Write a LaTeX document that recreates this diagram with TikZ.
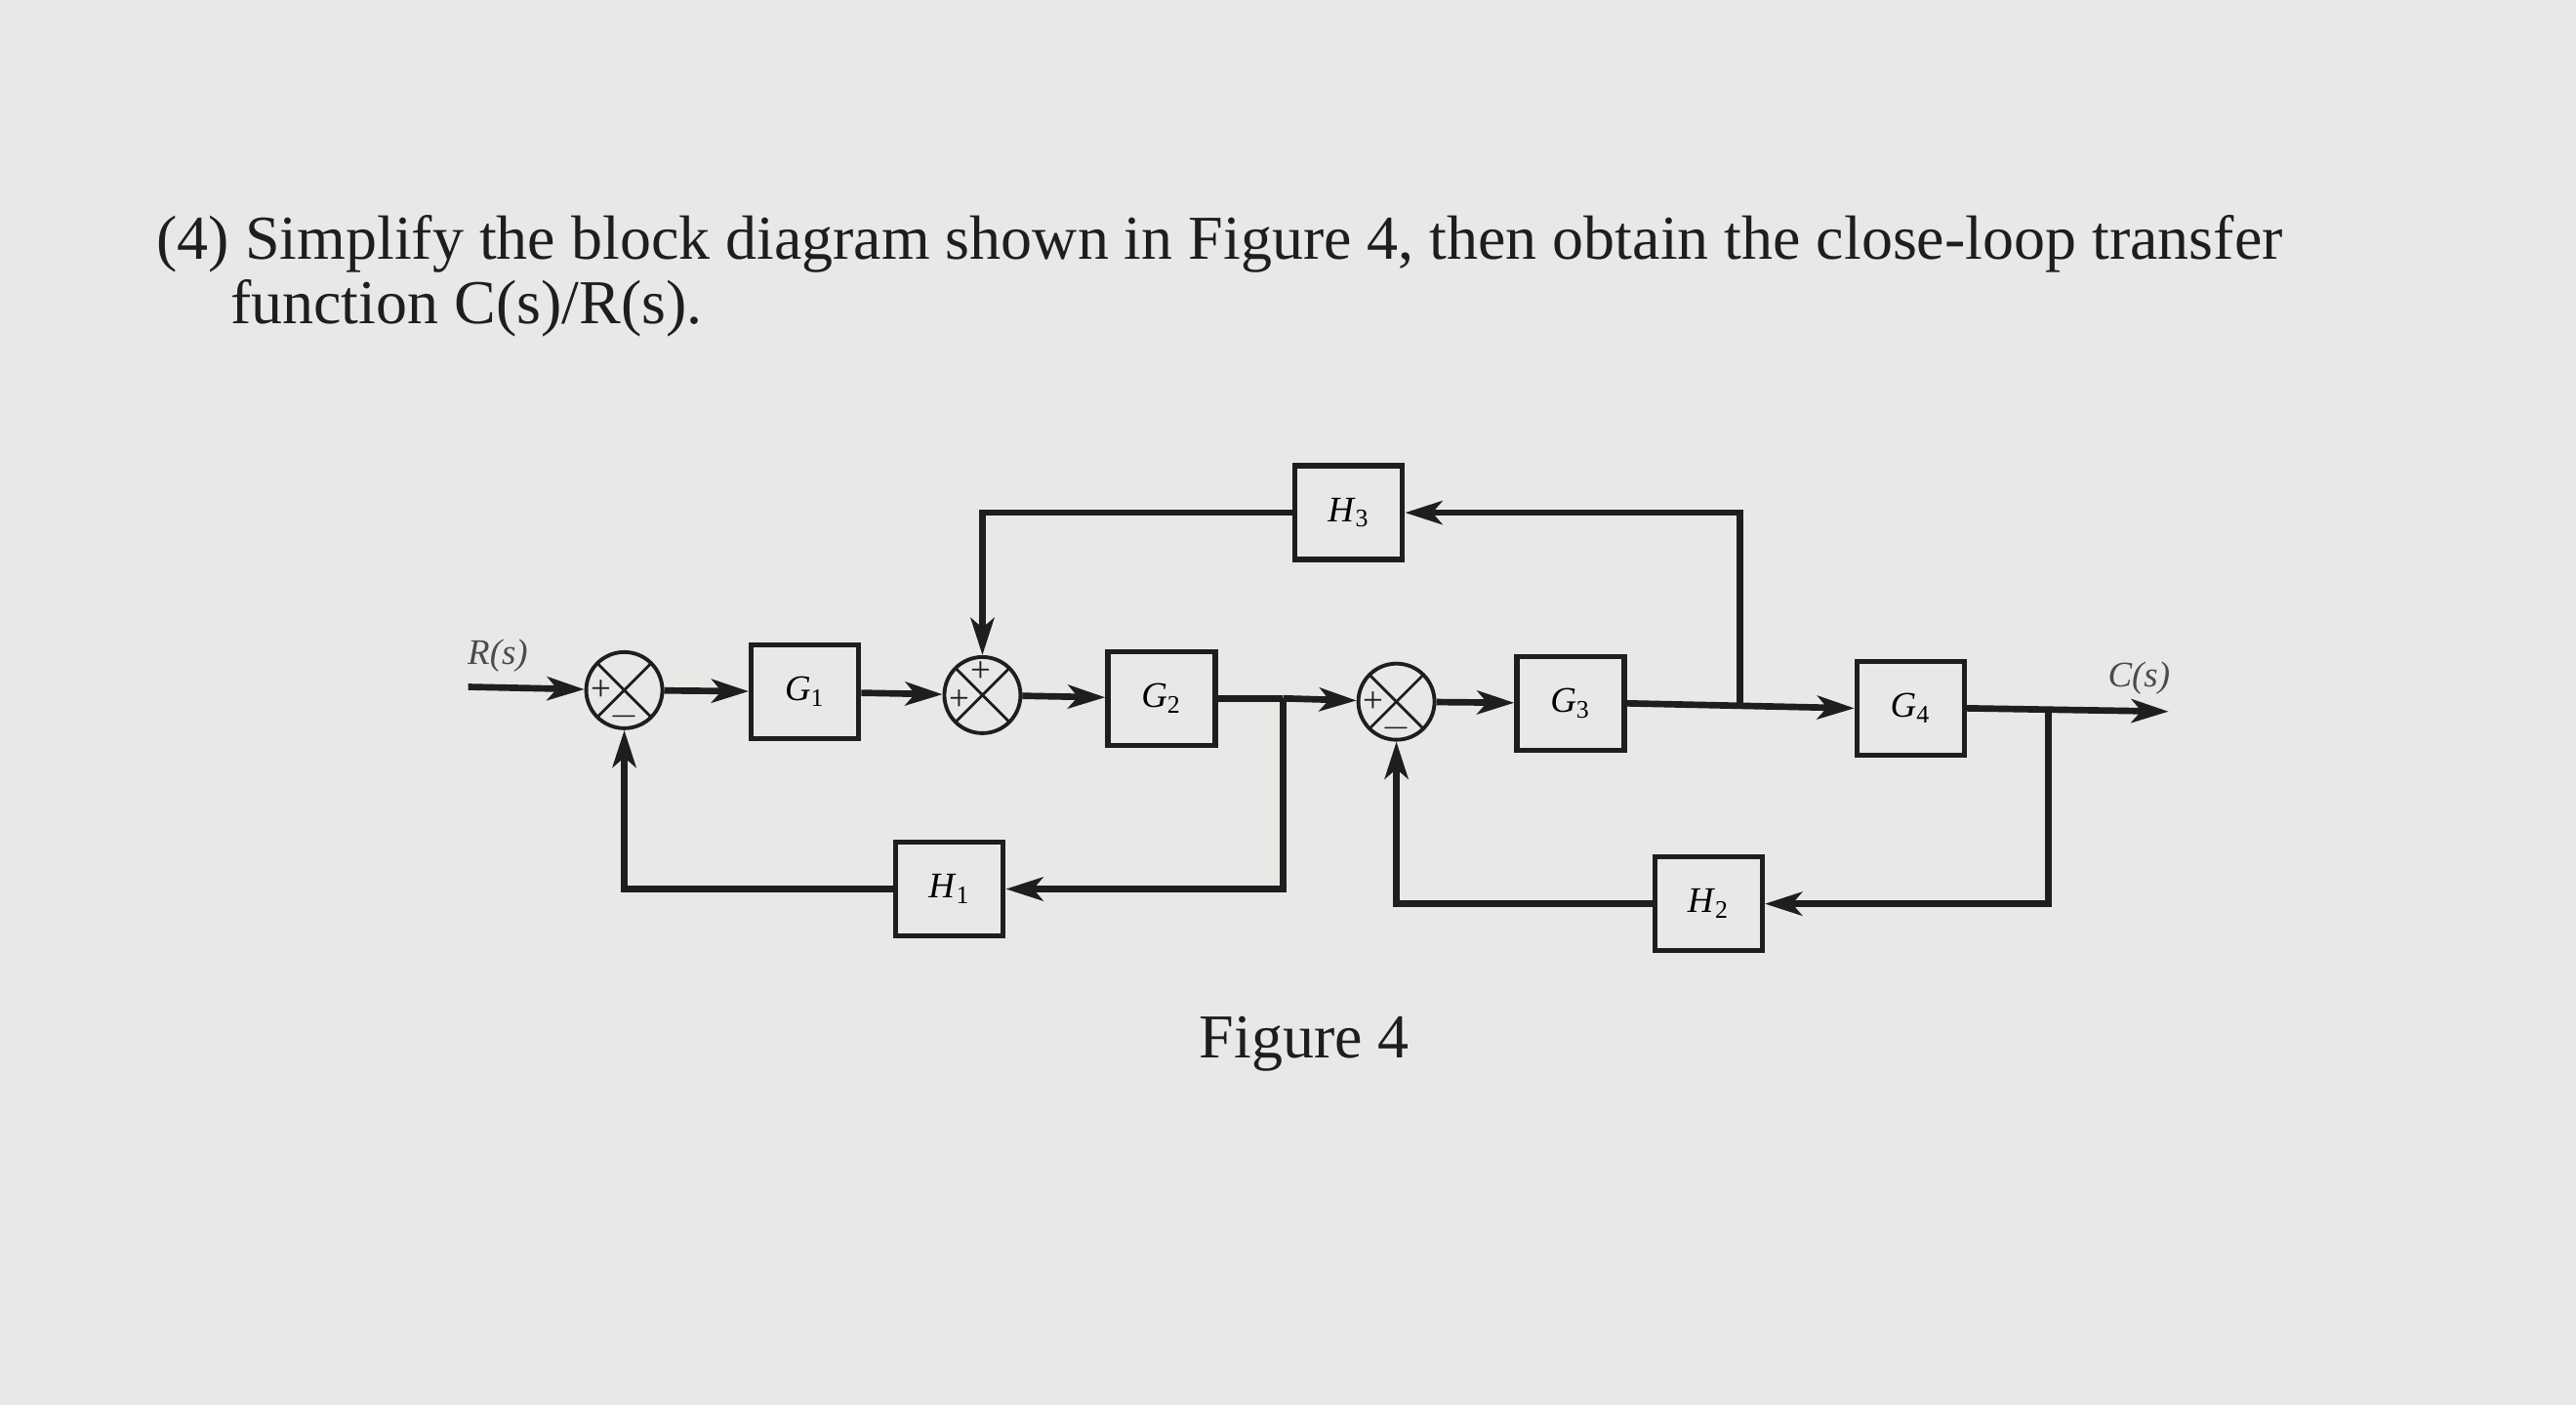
\documentclass[tikz,border=0pt]{standalone}
\usepackage{fontspec}
\setmainfont{Liberation Serif}
\usetikzlibrary{arrows.meta}

\definecolor{paper}{RGB}{232,232,230}
\definecolor{ink}{RGB}{30,30,30}

\newcommand*{\pw}{1568}
\newcommand*{\ph}{855}

\tikzset{
  blk/.style={draw=ink, line width=1.5pt, fill=paper, minimum width=1.1cm, minimum height=0.96cm,
    font=\fontsize{10.5}{12}\selectfont},
  sumjct/.style={draw=ink, circle, line width=1.1pt, minimum size=0.78cm, inner sep=0pt,
    path picture={\draw[ink, line width=0.8pt]
      (path picture bounding box.north west) -- (path picture bounding box.south east)
      (path picture bounding box.north east) -- (path picture bounding box.south west);}},
  sgn/.style={font=\fontsize{10.5}{10.5}\selectfont, inner sep=0pt, text=ink},
  sig/.style={ink, line width=1.9pt, -{Stealth[length=0.38cm,width=0.24cm,inset=0.1cm]}},
  wire/.style={ink, line width=1.9pt},
  lbl/.style={font=\fontsize{10.5}{12}\selectfont\itshape, text=ink!80},
  big/.style={font=\fontsize{18.2}{19}\selectfont, text=ink, inner sep=0pt}
}

\begin{document}
\begin{tikzpicture}[x=0.01683cm, y=-0.01683cm]

	\fill[paper] (0,0) rectangle (\pw,\ph);
	\useasboundingbox (0,0) rectangle (\pw,\ph);

	% question text
	\node[big, anchor=base west] (title1) at (95,158) {(4) Simplify the block diagram shown in Figure 4, then obtain the close-loop transfer};
	\node[big, anchor=base west] (title2) at (140,197) {function C(s)/R(s).};

	% forward path
	\coordinate (rin) at (285,418);
	\node[sumjct] (s1) at (380,420) {};
	\node[blk] (g1) at (490,421) {\textit{G}\textsubscript{1}};
	\node[sumjct] (s2) at (598,423) {};
	\node[blk] (g2) at (707,425) {\textit{G}\textsubscript{2}};
	\coordinate (b1) at (781,425);
	\node[sumjct] (s3) at (850,427) {};
	\node[blk] (g3) at (956,428) {\textit{G}\textsubscript{3}};
	\coordinate (b2) at (1059,429);
	\node[blk] (g4) at (1163,431) {\textit{G}\textsubscript{4}};
	\coordinate (b3) at (1247,432);
	\coordinate (cout) at (1320,433);

	% feedback blocks
	\node[blk] (h1) at (578,541) {\textit{H}\textsubscript{1}};
	\node[blk] (h2) at (1040,550) {\textit{H}\textsubscript{2}};
	\node[blk] (h3) at (821,312) {\textit{H}\textsubscript{3}};

	% signs
	\node[sgn] (s1p) at ([xshift=-0.24cm]s1.center) {+};
	\node[sgn] (s1m) at ([yshift=-0.27cm]s1.center) {$-$};
	\node[sgn] (s2p) at ([xshift=-0.24cm,yshift=-0.05cm]s2.center) {+};
	\node[sgn] (s2q) at ([xshift=-0.02cm,yshift=0.24cm]s2.center) {+};
	\node[sgn] (s3p) at ([xshift=-0.24cm]s3.center) {+};
	\node[sgn] (s3m) at ([yshift=-0.27cm]s3.center) {$-$};

	% labels
	\node[lbl] (rlab) at (303,399) {R(s)};
	\node[lbl] (clab) at (1302,413) {C(s)};

	\draw[sig] (rin) -- (s1);
	\draw[sig] (s1) -- (g1);
	\draw[sig] (g1) -- (s2);
	\draw[sig] (s2) -- (g2);
	\draw[wire] (g2.east) -- (b1);
	\draw[sig] (b1) -- (s3);
	\draw[sig] (s3) -- (g3);
	\draw[sig] (g3.east) -- (g4.west);
	\draw[sig] (g4.east) -- (cout);

	\draw[sig] (b1) |- (h1.east);
	\draw[sig] (h1.west) -| (s1.south);
	\draw[sig] (b2) |- (h3.east);
	\draw[sig] (h3.west) -| (s2.north);
	\draw[sig] (b3) |- (h2.east);
	\draw[sig] (h2.west) -| (s3.south);

	\node[big] (fig) at (794,635) {Figure 4};

\end{tikzpicture}
\end{document}
